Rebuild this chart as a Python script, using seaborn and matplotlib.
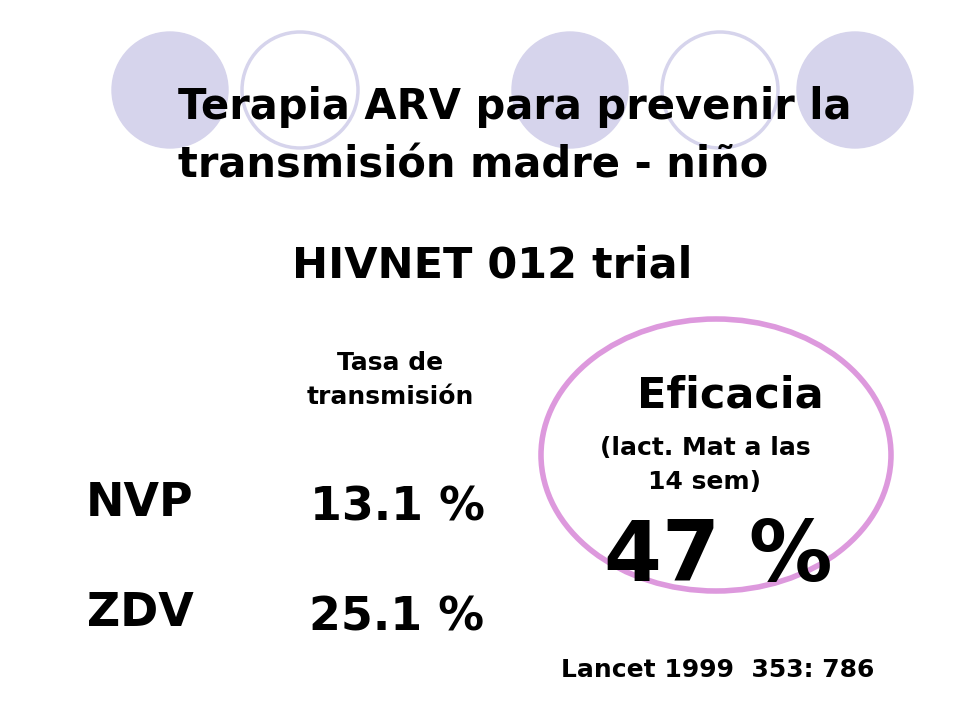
import matplotlib
matplotlib.use("Agg")
import matplotlib.pyplot as plt
from matplotlib.patches import Circle, Ellipse
import seaborn as sns

# slide content
groups = ["NVP", "ZDV"]
tasas = [13.1, 25.1]
eficacia = 47
filled_x = [170, 570, 855]
outline_x = [300, 720]

sns.set_style("white")
plt.rcParams["font.family"] = ["DejaVu Sans"]

fig = plt.figure(figsize=(9.6, 7.2), dpi=100)
ax = fig.add_axes([0, 0, 1, 1])
ax.set_xlim(0, 960)
ax.set_ylim(720, 0)
ax.axis("off")

lav = "#d6d4ec"
for x in filled_x:
    ax.add_patch(Circle((x, 90), 58, color=lav, zorder=1))
for x in outline_x:
    ax.add_patch(Circle((x, 90), 58, fill=False, ec=lav, lw=2.5, zorder=1))

ax.add_patch(Ellipse((716, 455), 350, 272, fill=False, ec="#dd99dd", lw=4))

bold = dict(fontweight="bold", color="black")
ax.text(178, 107, "Terapia ARV para prevenir la", fontsize=30, va="center", **bold)
ax.text(178, 165, "transmisión madre - niño", fontsize=30, va="center", **bold)
ax.text(492, 265, "HIVNET 012 trial", fontsize=31, ha="center", va="center", **bold)
ax.text(390, 380, "Tasa de\ntransmisión", fontsize=18, ha="center", va="center",
        linespacing=1.5, **bold)
ax.text(730, 395, "Eficacia", fontsize=31, ha="center", va="center", **bold)
ax.text(705, 465, "(lact. Mat a las\n14 sem)", fontsize=18, ha="center", va="center",
        linespacing=1.5, **bold)
ax.text(718, 558, f"{eficacia} %", fontsize=60, ha="center", va="center", **bold)

for i, (g, t) in enumerate(zip(groups, tasas)):
    y = 503 + i * 110
    ax.text(140, y, g, fontsize=33, ha="center", va="center", **bold)
    ax.text(397, y + 5, f"{t} %", fontsize=33, ha="center", va="center", **bold)

ax.text(718, 670, "Lancet 1999  353: 786", fontsize=18, ha="center", va="center", **bold)

fig.savefig("out.png", dpi=100)
